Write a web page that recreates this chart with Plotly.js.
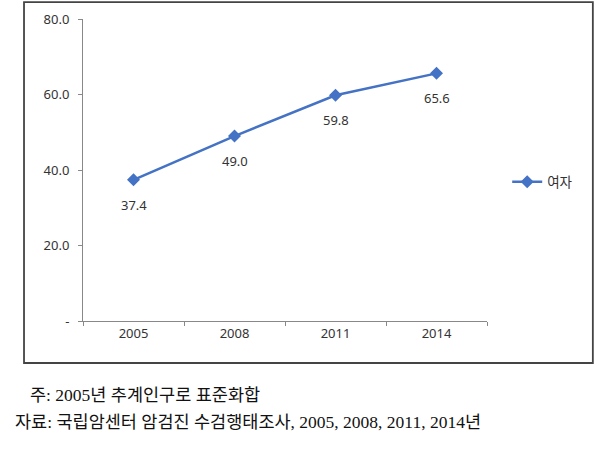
<!DOCTYPE html>
<html><head><meta charset="utf-8">
<script src="https://cdn.plot.ly/plotly-3.0.1.min.js"></script>
<style>html,body{margin:0;padding:0;background:#fff;}#chart{width:600px;height:452px;}</style>
</head><body><div id="chart"></div>
<script>
const years = ['2005', '2008', '2011', '2014'];
const women = [37.4, 49.0, 59.8, 65.6];
const seriesName = '여자';
const yTickVals = [0, 20, 40, 60, 80];
const yTickText = ['-', '20.0', '40.0', '60.0', '80.0'];
const note1 = '주: 2005년 추계인구로 표준화합';
const note2 = '자료: 국립암센터 암검진 수검행태조사, 2005, 2008, 2011, 2014년';

const blue = '#4472C4';
const chartFont = 'Noto Sans, Noto Sans CJK KR, sans-serif';
const trace = {
  x: years, y: women, name: seriesName, type: 'scatter',
  mode: 'lines+markers',
  line: {color: blue, width: 2.5},
  marker: {symbol: 'diamond', size: 10, color: blue},
  cliponaxis: false
};
const labelAnns = years.map((yr, i) => ({
  x: i, y: women[i], xref: 'x', yref: 'y', text: women[i].toFixed(1),
  showarrow: false, yshift: -25, xanchor: 'center', yanchor: 'middle',
  font: {size: 13, color: '#333', family: chartFont}
}));
const tickFont = {size: 13, color: '#333', family: chartFont};
const layout = {
  width: 600, height: 452,
  margin: {l: 83, r: 113, t: 19, b: 131},
  paper_bgcolor: '#fff', plot_bgcolor: '#fff',
  font: {family: chartFont, size: 13, color: '#333'},
  showlegend: true,
  legend: {x: 1.05, y: 0.46, xanchor: 'left', yanchor: 'middle', font: {size: 13.5, family: 'Noto Sans CJK KR, sans-serif'}, bgcolor: 'rgba(0,0,0,0)'},
  xaxis: {
    type: 'category', range: [-0.5, 3.5], tickson: 'boundaries',
    ticks: 'outside', ticklen: 4, tickcolor: '#888', tickfont: tickFont,
    showline: true, linecolor: '#888', linewidth: 1,
    showgrid: false, zeroline: false, fixedrange: true
  },
  yaxis: {
    range: [0, 80], tickvals: yTickVals, ticktext: yTickText,
    ticks: 'outside', ticklen: 4, tickcolor: '#888', tickfont: tickFont,
    showline: true, linecolor: '#888', linewidth: 1,
    showgrid: false, zeroline: false, ticklabelstandoff: 6
  },
  shapes: [{
    type: 'rect', xref: 'paper', yref: 'paper',
    x0: -0.146, x1: 1.262, y0: -0.139, y1: 1.056,
    line: {color: '#444', width: 1.8}, fillcolor: 'rgba(0,0,0,0)', layer: 'below'
  }],
  annotations: labelAnns.concat([
    {text: note1, xref: 'paper', yref: 'paper', x: -0.136, y: -0.245, xanchor: 'left', yanchor: 'middle', showarrow: false,
     font: {family: 'Liberation Serif, Noto Sans CJK KR, serif', size: 17.5, color: '#111'}},
    {text: note2, xref: 'paper', yref: 'paper', x: -0.173, y: -0.334, xanchor: 'left', yanchor: 'middle', showarrow: false,
     font: {family: 'Liberation Serif, Noto Sans CJK KR, serif', size: 17.5, color: '#111'}}
  ])
};
Plotly.newPlot('chart', [trace], layout, {displayModeBar: false, staticPlot: true});
</script></body></html>
